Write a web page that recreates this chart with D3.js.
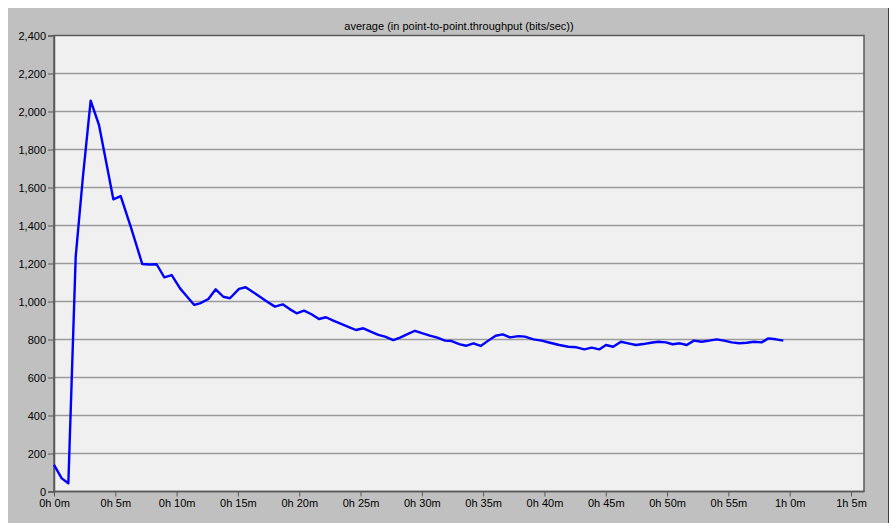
<!DOCTYPE html>
<html>
<head>
<meta charset="utf-8">
<script src="https://cdn.jsdelivr.net/npm/d3@7"></script>
<style>
  html, body { margin: 0; padding: 0; background: #ffffff; }
  svg { display: block; }
  text { font-family: "Liberation Sans", Arial, sans-serif; fill: #000; }
</style>
</head>
<body>
<svg id="chart" width="893" height="523"></svg>
<script>
// ---- data (time in minutes, value in bits/sec) ----
const title = "average (in point-to-point.throughput (bits/sec))";
const times = [
  0, 0.63, 1.17, 1.77, 2.35, 2.99, 3.67, 4.25, 4.84, 5.44, 6.3, 7.2, 7.78, 8.37, 9.0, 9.6,
  10.28, 10.86, 11.44, 11.9, 12.59, 13.19, 13.81, 14.35, 15.09, 15.63, 16.22, 16.82, 17.42,
  18.02, 18.65, 19.22, 19.79, 20.39, 21.0, 21.61, 22.18, 22.78, 23.32, 24.0, 24.63, 25.23,
  25.83, 26.45, 27.0, 27.67, 28.22, 28.83, 29.44, 30.07, 30.66, 31.26, 31.89, 32.43, 33.05,
  33.6, 34.2, 34.8, 35.42, 36.02, 36.59, 37.19, 37.87, 38.41, 39.1, 39.77, 40.45, 41.21,
  41.95, 42.62, 43.25, 43.85, 44.47, 45.01, 45.6, 46.24, 46.83, 47.46, 48.05, 48.68, 49.28,
  49.91, 50.45, 51.05, 51.6, 52.19, 52.82, 53.44, 54.04, 54.64, 55.27, 55.89, 56.49, 57.09,
  57.71, 58.26, 58.88, 59.48
];
const values = [
  140, 69, 43, 1236, 1650, 2057, 1929, 1735, 1538, 1555, 1385, 1197, 1195, 1196, 1127, 1139,
  1069, 1025, 982, 990, 1013, 1064, 1025, 1017, 1066, 1075, 1050, 1024, 998,
  973, 985, 960, 938, 952, 933, 908, 917, 899, 885, 867, 850, 859,
  841, 824, 815, 797, 810, 828, 846, 832, 820, 810, 794, 792, 776,
  767, 780, 766, 794, 820, 827, 811, 818, 815, 801, 794, 783, 771,
  762, 759, 748, 757, 748, 771, 762, 788, 780, 771, 776, 783, 788,
  785, 775, 780, 771, 794, 788, 794, 801, 794, 785, 780, 783, 788,
  785, 806, 801, 794
];
const yTicks = [0, 200, 400, 600, 800, 1000, 1200, 1400, 1600, 1800, 2000, 2200, 2400];
const xTicks = [0, 5, 10, 15, 20, 25, 30, 35, 40, 45, 50, 55, 60, 65];

// ---- layout ----
const W = 893, H = 523;
const plot = { left: 54, top: 35.5, right: 864, bottom: 491.5 };
const svg = d3.select("#chart");

// outer panel
svg.append("rect").attr("x", 0).attr("y", 0).attr("width", W).attr("height", H).attr("fill", "#ffffff");
svg.append("rect").attr("x", 8).attr("y", 8).attr("width", 880).attr("height", H - 8).attr("fill", "#c0c0c0");
svg.append("line").attr("x1", 888.5).attr("x2", 888.5).attr("y1", 8).attr("y2", H)
  .attr("stroke", "#404040").attr("stroke-width", 1);

// scales
const x = d3.scaleLinear().domain([0, 65]).range([plot.left, 851]);
const y = d3.scaleLinear().domain([0, 2400]).range([plot.bottom, plot.top]);

// plot background
svg.append("rect")
  .attr("x", plot.left).attr("y", plot.top)
  .attr("width", plot.right - plot.left).attr("height", plot.bottom - plot.top)
  .attr("fill", "#f0f0f0");

// gridlines
svg.append("g").selectAll("line").data(yTicks.filter(d => d > 0 && d < 2400)).join("line")
  .attr("x1", plot.left).attr("x2", plot.right)
  .attr("y1", d => y(d)).attr("y2", d => y(d))
  .attr("stroke", "#9a9a9a").attr("stroke-width", 1.5);

// frame
svg.append("rect")
  .attr("x", plot.left).attr("y", plot.top)
  .attr("width", plot.right - plot.left).attr("height", plot.bottom - plot.top)
  .attr("fill", "none").attr("stroke", "#5a5a5a").attr("stroke-width", 1.5);

// y axis
const yAxis = d3.axisLeft(y).tickValues(yTicks).tickFormat(d3.format(",")).tickSize(6).tickPadding(2);
const gy = svg.append("g").attr("transform", `translate(${plot.left},0)`).call(yAxis);
gy.select(".domain").attr("stroke", "#5a5a5a").attr("stroke-width", 1.5);
gy.selectAll(".tick line").attr("stroke", "#5a5a5a");
gy.selectAll("text").style("font-size", "11px").attr("fill", "#000");

// x axis
const fmtTime = m => `${Math.floor(m / 60)}h ${m % 60}m`;
const xAxis = d3.axisBottom(x).tickValues(xTicks).tickFormat(fmtTime).tickSize(5).tickPadding(3);
const gx = svg.append("g").attr("transform", `translate(0,${plot.bottom})`).call(xAxis);
gx.select(".domain").remove();
gx.selectAll(".tick line").attr("stroke", "#5a5a5a");
gx.selectAll("text").style("font-size", "11px").attr("fill", "#000");
svg.append("line").attr("x1", plot.left).attr("x2", plot.right)
  .attr("y1", plot.bottom).attr("y2", plot.bottom)
  .attr("stroke", "#5a5a5a").attr("stroke-width", 1.5);

// line
const data = times.map((t, i) => ({ t, v: values[i] }));
svg.append("path").datum(data)
  .attr("fill", "none").attr("stroke", "#0000ff").attr("stroke-width", 2.4)
  .attr("stroke-linejoin", "round")
  .attr("d", d3.line().x(d => x(d.t)).y(d => y(d.v)));

// title
svg.append("text").attr("x", 459).attr("y", 30).attr("text-anchor", "middle")
  .style("font-size", "11px").text(title);
</script>
</body>
</html>
